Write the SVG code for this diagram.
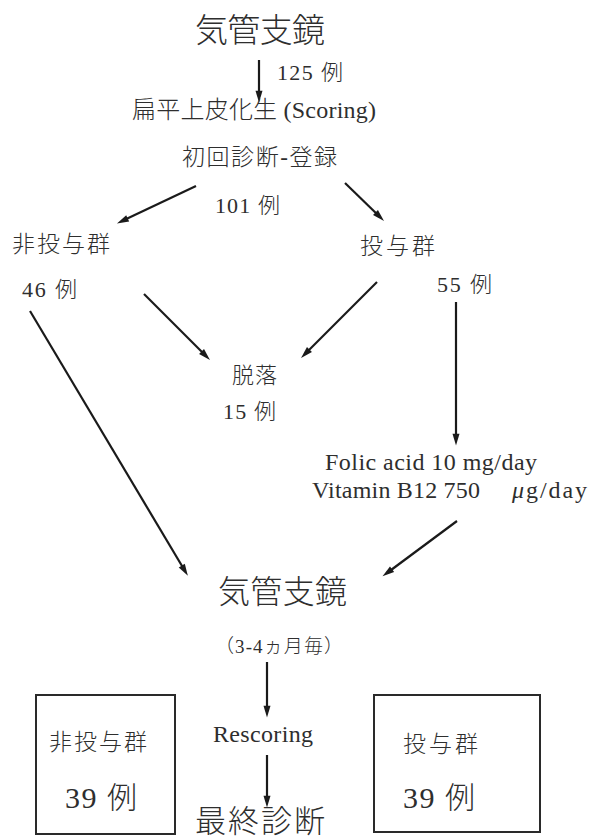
<svg xmlns="http://www.w3.org/2000/svg" width="589" height="840" viewBox="0 0 589 840">
<defs>
<style>
text{font-family:"Liberation Serif","Noto Sans CJK JP",serif;fill:#2e2e2e;font-weight:300;}
.c{stroke:#1a1a1a;stroke-width:2.2;fill:none;}
.box{stroke:#2a2a2a;stroke-width:2;fill:none;}
</style>
<marker id="ah" viewBox="0 0 10 10" refX="9" refY="5" markerWidth="7" markerHeight="8" markerUnits="userSpaceOnUse" orient="auto" overflow="visible">
<path d="M0,0 L10,5 L0,10 z" fill="#1a1a1a" transform="scale(1.7,1)"/>
</marker>
</defs>
<rect width="589" height="840" fill="#ffffff"/>
<g id="connectors">
<line class="c" x1="259" y1="60" x2="259" y2="97" marker-end="url(#ah)"/>
<line class="c" x1="196" y1="186" x2="122" y2="221" marker-end="url(#ah)"/>
<line class="c" x1="345" y1="183" x2="380" y2="217" marker-end="url(#ah)"/>
<line class="c" x1="30" y1="311" x2="185" y2="571" marker-end="url(#ah)"/>
<line class="c" x1="144" y1="294" x2="206" y2="356" marker-end="url(#ah)"/>
<line class="c" x1="377" y1="282" x2="305" y2="354" marker-end="url(#ah)"/>
<line class="c" x1="456" y1="302" x2="456" y2="440" marker-end="url(#ah)"/>
<line class="c" x1="457" y1="521" x2="387" y2="573" marker-end="url(#ah)"/>
<line class="c" x1="267" y1="662" x2="267" y2="712" marker-end="url(#ah)"/>
<line class="c" x1="267" y1="755" x2="267" y2="802" marker-end="url(#ah)"/>
</g>
<g id="n-bronch1"><text x="195" y="42" font-size="33" textLength="130">気管支鏡</text></g>
<g id="n-125"><text x="277" y="80" font-size="22" textLength="66">125 例</text></g>
<g id="n-scoring"><text x="132" y="118" font-size="24" textLength="244">扁平上皮化生 (Scoring)</text></g>
<g id="n-initial"><text x="182" y="165" font-size="23" textLength="155">初回診断-登録</text></g>
<g id="n-101"><text x="215" y="213" font-size="22" textLength="65">101 例</text></g>
<g id="n-nontreat"><text x="12" y="252" font-size="23" textLength="98">非投与群</text><text x="22" y="297" font-size="22" textLength="55">46 例</text></g>
<g id="n-treat"><text x="360" y="254" font-size="23" textLength="75">投与群</text><text x="437" y="292" font-size="22" textLength="55">55 例</text></g>
<g id="n-dropout"><text x="232" y="383" font-size="22" textLength="45">脱落</text><text x="223" y="419" font-size="22" textLength="53">15 例</text></g>
<g id="n-dose"><text x="325" y="470" font-size="24" textLength="212">Folic acid 10 mg/day</text><text x="312" y="498" font-size="24" textLength="168">Vitamin B12 750</text><text x="512" y="498" font-size="24" textLength="75"><tspan font-style="italic">μ</tspan>g/day</text></g>
<g id="n-bronch2"><text x="218" y="603" font-size="32" textLength="129">気管支鏡</text></g>
<g id="n-interval"><text x="215" y="653" font-size="19" textLength="128">（3-4ヵ月毎）</text></g>
<g id="n-rescoring"><text x="213" y="742" font-size="24" textLength="100">Rescoring</text></g>
<g id="n-final"><text x="195" y="832" font-size="31" textLength="130">最終診断</text></g>
<g id="n-box-left"><rect class="box" x="36" y="695" width="139" height="139"/><text x="49" y="750" font-size="23" textLength="98">非投与群</text><text x="65" y="808" font-size="30" textLength="72">39 例</text></g>
<g id="n-box-right"><rect class="box" x="374" y="695" width="166" height="137"/><text x="403" y="752" font-size="23" textLength="75">投与群</text><text x="403" y="808" font-size="30" textLength="72">39 例</text></g>
</svg>
